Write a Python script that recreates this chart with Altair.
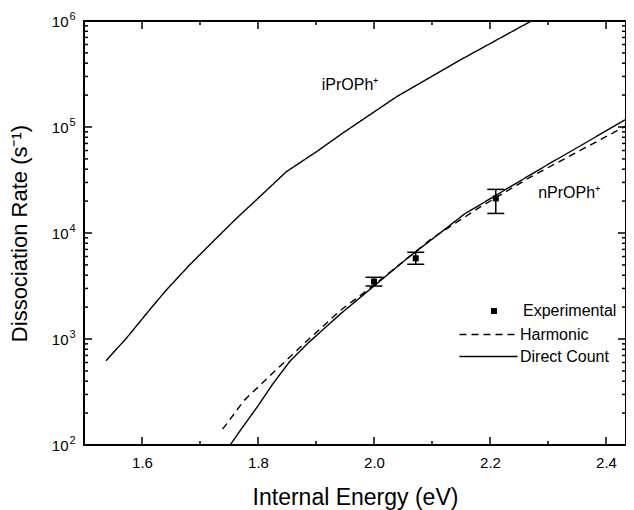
import altair as alt
import pandas as pd

# ---- data ----
# iPrOPh+ (direct count)
ipr_E = [1.538, 1.573, 1.613, 1.642, 1.682, 1.728, 1.763, 1.797, 1.849, 1.901, 1.947, 2.039, 2.154, 2.269]
ipr_k = [624, 1016, 1880, 2900, 4990, 8910, 13770, 20500, 37900, 58500, 88300, 193000, 445000, 985000]

# nPrOPh+ direct count (solid)
ndc_E = [1.752, 1.771, 1.800, 1.826, 1.855, 1.886, 1.943, 2.000, 2.057, 2.114, 2.156, 2.230, 2.298, 2.374, 2.447]
ndc_k = [100, 141, 234, 380, 617, 912, 1740, 3160, 5750, 10000, 15100, 26300, 43700, 75900, 129700]

# nPrOPh+ harmonic (dashed)
nh_E = [1.739, 1.776, 1.826, 1.886, 1.943, 1.989, 2.030, 2.100, 2.184, 2.271, 2.357, 2.432, 2.447]
nh_k = [141, 263, 481, 977, 1880, 2900, 4370, 8900, 17700, 34000, 60700, 100700, 108000]

# experimental points with error bars
exp_E = [2.000, 2.072, 2.210]
exp_k = [3480, 5770, 21200]
exp_lo = [3160, 5070, 15300]
exp_hi = [3820, 6580, 25800]

# curve annotations
lab_text = ["iPrOPh\u207a", "nPrOPh\u207a"]
lab_E = [1.910, 2.283]
lab_k = [249000, 23800]

# axis ticks
x_major = [1.6, 1.8, 2.0, 2.2, 2.4]
x_minor = [1.7, 1.9, 2.1, 2.3]
y_major = [1e2, 1e3, 1e4, 1e5, 1e6]
y_minor = [m * 10 ** p for p in range(2, 6) for m in range(2, 10)]

# ---- layout ----
W, H = 542, 424
X0, X1 = 1.5, 2.4345
Y0, Y1 = 100, 1e6
MAJOR_LEN, MINOR_LEN = 8, 4
FONT = "Liberation Sans"
px_per_eV = W / (X1 - X0)
px_per_decade = H / 4.0

# ---- tables ----
curves = pd.concat([
    pd.DataFrame({"E": ipr_E, "k": ipr_k, "ion": "iPrOPh", "model": "Direct Count"}),
    pd.DataFrame({"E": ndc_E, "k": ndc_k, "ion": "nPrOPh", "model": "Direct Count"}),
    pd.DataFrame({"E": nh_E, "k": nh_k, "ion": "nPrOPh-h", "model": "Harmonic"}),
], ignore_index=True)
exp = pd.DataFrame({"E": exp_E, "k": exp_k, "lo": exp_lo, "hi": exp_hi, "kind": "Experimental"})
labels = pd.DataFrame({"E": lab_E, "k": lab_k, "text": lab_text})

# inward frame ticks as short segments, in data units (placed by the chart's scales)
rows = []
for vals, ln in ((x_major, MAJOR_LEN), (x_minor, MINOR_LEN)):
    f = 10 ** (ln / px_per_decade)
    for v in vals:
        rows.append({"x": v, "x2": v, "y": Y0, "y2": Y0 * f})   # bottom edge
        rows.append({"x": v, "x2": v, "y": Y1, "y2": Y1 / f})   # top edge
for vals, ln in ((y_major, MAJOR_LEN), (y_minor, MINOR_LEN)):
    d = ln / px_per_eV
    for v in vals:
        rows.append({"x": X0, "x2": X0 + d, "y": v, "y2": v})   # left edge
        rows.append({"x": X1, "x2": X1 - d, "y": v, "y2": v})   # right edge
frame_ticks = pd.DataFrame(rows)

xs = alt.Scale(domain=[X0, X1], nice=False, zero=False)
ys = alt.Scale(type="log", domain=[Y0, Y1], nice=False)

x_label_axis = alt.Axis(orient="bottom", values=x_major, format=".1f", ticks=False, tickSize=0,
                        domain=False, grid=False, labelFont=FONT, labelFontSize=15, labelColor="black",
                        labelPadding=10, title="Internal Energy (eV)", titleFont=FONT, titleFontSize=23,
                        titleFontWeight="normal", titleColor="black", titleY=59, titleBaseline="alphabetic")
y_label_axis = alt.Axis(orient="left", values=y_major, labelExpr="'10'",
                        ticks=False, tickSize=0, domain=False, grid=False, labelFont=FONT, labelFontSize=15,
                        labelColor="black", labelPadding=16, title="Dissociation Rate (s\u207b\u00b9)",
                        titleFont=FONT, titleFontSize=22, titleFontWeight="normal", titleColor="black",
                        titleAngle=270, titleX=-58, titleY=H / 2, titleAlign="center", titleBaseline="alphabetic")
y_exp_axis = alt.Axis(orient="left", values=y_major, labelExpr="format(round(log(datum.value)/LN10), 'd')",
                      ticks=False, tickSize=0, domain=False, grid=False, labelFont=FONT, labelFontSize=11,
                      labelColor="black", labelPadding=15, labelAlign="left", labelBaseline="bottom", title=None)

lines = alt.Chart(curves).mark_line(color="black", strokeWidth=1.4, clip=True).encode(
    x=alt.X("E:Q", scale=xs, axis=x_label_axis),
    y=alt.Y("k:Q", scale=ys, axis=y_label_axis),
    strokeDash=alt.StrokeDash("model:N",
                              scale=alt.Scale(domain=["Harmonic", "Direct Count"], range=[[7, 5], [1, 0]]),
                              legend=alt.Legend(orient="none", legendX=394, legendY=303, title=None,
                                                symbolType="M-3,0H3", symbolSize=374, symbolStrokeWidth=1.4,
                                                symbolStrokeColor="black", labelFont=FONT, labelFontSize=16,
                                                labelColor="black", rowPadding=3, labelOffset=21, padding=0)),
    detail="ion:N",
    order="E:Q",
)

tick_marks = alt.Chart(frame_ticks).mark_rule(color="black", strokeWidth=1.5).encode(
    x=alt.X("x:Q", scale=xs, axis=None),
    x2="x2:Q",
    y=alt.Y("y:Q", scale=ys, axis=None),
    y2="y2:Q",
)

rules = alt.Chart(exp).mark_rule(color="black", strokeWidth=1.5).encode(
    x=alt.X("E:Q", scale=xs, axis=None),
    y=alt.Y("lo:Q", scale=ys, axis=None),
    y2="hi:Q",
)

caps = alt.Chart(exp).transform_fold(["lo", "hi"], as_=["end", "val"]).mark_tick(
    orient="horizontal", color="black", size=17, thickness=1.5, opacity=1).encode(
    x=alt.X("E:Q", scale=xs, axis=None),
    y=alt.Y("val:Q", scale=ys, axis=None),
)

points = alt.Chart(exp).mark_point(filled=True, size=36, color="black", opacity=1).encode(
    x=alt.X("E:Q", scale=xs, axis=None),
    y=alt.Y("k:Q", scale=ys, axis=None),
    shape=alt.Shape("kind:N", scale=alt.Scale(domain=["Experimental"], range=["square"]),
                    legend=alt.Legend(orient="none", legendX=402, legendY=282, title=None, symbolSize=36,
                                      symbolFillColor="black", symbolStrokeColor="black", labelFont=FONT,
                                      labelFontSize=16, labelColor="black", labelOffset=21, padding=0)),
)

texts = alt.Chart(labels).mark_text(align="left", baseline="middle", font=FONT, fontSize=16, color="black").encode(
    x=alt.X("E:Q", scale=xs, axis=None),
    y=alt.Y("k:Q", scale=ys, axis=None),
    text="text:N",
)

# invisible carrier layer for the exponent part of the y tick labels
exps = alt.Chart(exp).mark_point(opacity=0).encode(
    x=alt.X("E:Q", scale=xs, axis=None),
    y=alt.Y("k:Q", scale=ys, axis=y_exp_axis),
)

chart = alt.layer(lines, tick_marks, rules, caps, points, texts, exps).resolve_axis(
    x="independent", y="independent"
).properties(
    width=W, height=H,
    autosize=alt.AutoSizeParams(type="none"),
    padding={"left": 76, "top": 13, "right": 0, "bottom": 65},
    background="white",
).configure_view(stroke="black", strokeWidth=2)

chart.save("out.html", embed_options={"renderer": "svg", "actions": False})
